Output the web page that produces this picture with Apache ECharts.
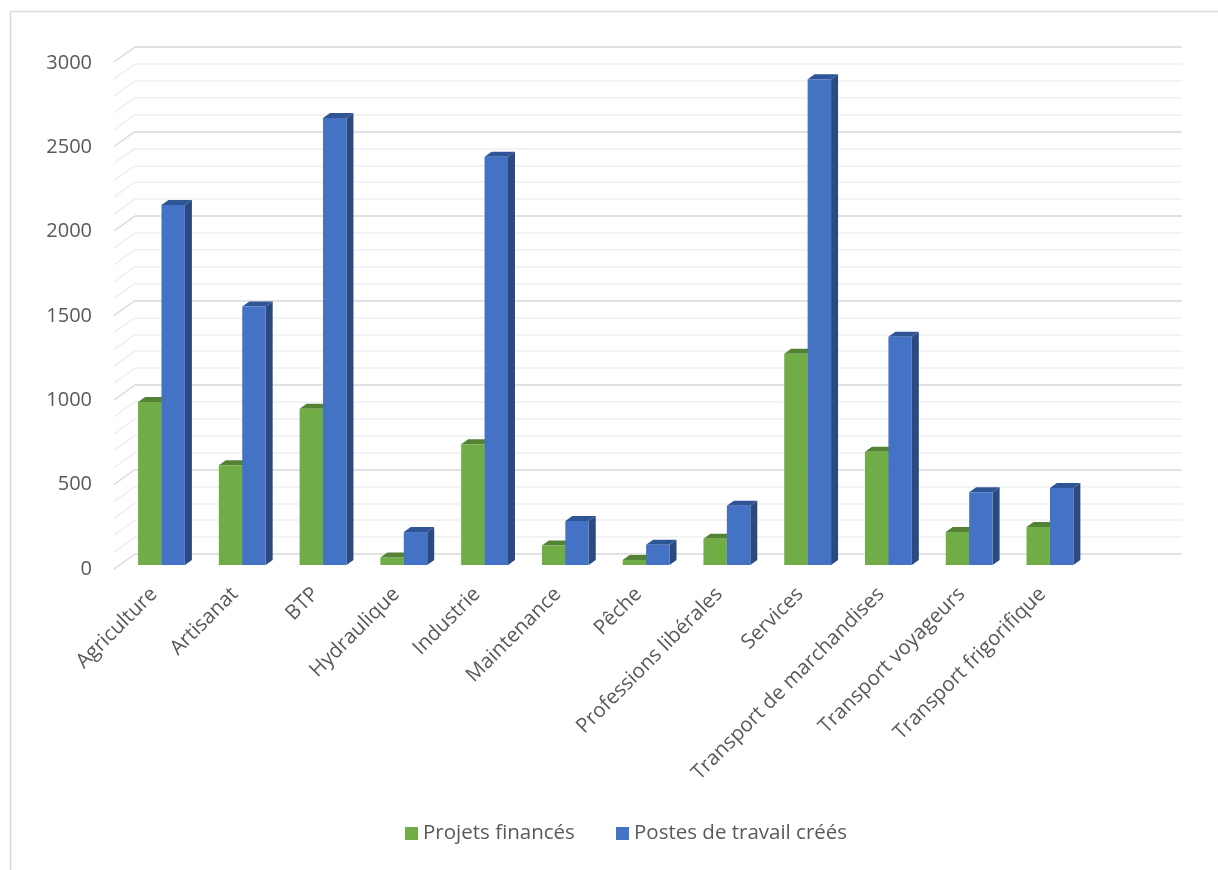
<!DOCTYPE html>
<html>
<head>
<meta charset="utf-8">
<script src="https://cdn.jsdelivr.net/npm/echarts@6/dist/echarts.min.js"></script>
<style>html,body{margin:0;padding:0;background:#fff;}#c{width:1218px;height:870px;}</style>
</head>
<body>
<div id="c"></div>
<script>
const categories = ['Agriculture','Artisanat','BTP','Hydraulique','Industrie','Maintenance','Pêche','Professions libérales','Services','Transport de marchandises','Transport voyageurs','Transport frigorifique',''];
const projetsFinances = [965,590,925,45,715,115,30,155,1250,670,195,225];
const postesCrees = [2130,1530,2645,195,2415,260,120,350,2875,1350,430,455];
const yTicks = [0,500,1000,1500,2000,2500,3000];
const seriesNames = ['Projets financés','Postes de travail créés'];

const FONT = 'Open Sans';
const TXT = '#595959';
const DX = 7, DY = -5;

function barRenderer(front, top, side, offsetIdx) {
  return function (params, api) {
    const idx = api.value(0);
    const val = api.value(1);
    const t = api.coord([idx, val]);
    const b = api.coord([idx, 0]);
    const band = api.size([1, 0])[0];
    const w = band * 0.29;
    const x = t[0] - w + offsetIdx * w + 1.5;
    const yt = t[1], yb = b[1];
    return {
      type: 'group',
      children: [
        {type: 'polygon', shape: {points: [[x + w, yt], [x + w + DX, yt + DY], [x + w + DX, yb + DY], [x + w, yb]]}, style: {fill: side}},
        {type: 'polygon', shape: {points: [[x, yt], [x + w, yt], [x + w + DX, yt + DY], [x + DX, yt + DY]]}, style: {fill: top}},
        {type: 'rect', shape: {x: x, y: yt, width: w, height: yb - yt}, style: {fill: front}}
      ]
    };
  };
}

const chart = echarts.init(document.getElementById('c'), null, {renderer: 'canvas'});
chart.setOption({
  animation: false,
  backgroundColor: '#fff',
  graphic: [{
    type: 'rect', z: -10,
    shape: {x: 10.5, y: 11.5, width: 1400, height: 1000},
    style: {fill: 'none', stroke: '#D9D9D9', lineWidth: 1.5}
  }],
  grid: [
    {left: 135, top: 47, width: 1047, height: 507},
    {left: 114, top: 63, width: 1047, height: 506},
    {left: 119.6, top: 58, width: 1050, height: 507},
    {left: 113.6, top: 58, width: 1050, height: 507}
  ],
  xAxis: [
    {gridIndex: 0, type: 'value', min: 0, max: 1, show: false},
    {gridIndex: 1, type: 'value', min: 0, max: 1, show: false},
    {gridIndex: 2, type: 'category', data: categories, boundaryGap: true, show: false},
    {gridIndex: 3, type: 'category', data: categories, boundaryGap: true,
      axisLine: {show: false}, axisTick: {show: false},
      axisLabel: {interval: 0, rotate: 45, margin: 26, color: TXT, fontSize: 20.5, fontFamily: FONT}}
  ],
  yAxis: [
    {gridIndex: 0, type: 'value', min: 0, max: 3000, interval: 500,
      axisLabel: {show: false}, axisLine: {show: false}, axisTick: {show: false},
      splitLine: {show: true, lineStyle: {color: '#D9D9D9', width: 1.5}},
      minorTick: {show: false, splitNumber: 5},
      minorSplitLine: {show: true, lineStyle: {color: '#EFEFEF', width: 1.5}}},
    {gridIndex: 1, type: 'value', min: 0, max: 3000, interval: 500,
      axisLine: {show: false}, axisTick: {show: false}, splitLine: {show: false},
      axisLabel: {margin: 22, color: TXT, fontSize: 20, fontFamily: FONT,
        customValues: yTicks, formatter: function (v) { return String(v); }}},
    {gridIndex: 2, type: 'value', min: 0, max: 3000, show: false, splitLine: {show: false}},
    {gridIndex: 3, type: 'value', min: 0, max: 3000, show: false, splitLine: {show: false}}
  ],
  legend: [
    {data: [seriesNames[0]], left: 400, top: 818, icon: 'rect', itemWidth: 13, itemHeight: 13, itemGap: 0,
      textStyle: {color: TXT, fontSize: 20.5, fontFamily: FONT}},
    {data: [seriesNames[1]], left: 611, top: 818, icon: 'rect', itemWidth: 13, itemHeight: 13, itemGap: 0,
      textStyle: {color: TXT, fontSize: 20.5, fontFamily: FONT}}
  ],
  series: [
    {
      type: 'custom', name: 'walls', xAxisIndex: 0, yAxisIndex: 0, silent: true, z: 1,
      data: [[0, 0]],
      renderItem: function (params, api) {
        const children = [];
        for (let v = 0; v <= 3000; v += 100) {
          const p = api.coord([0, v]);
          const major = v % 500 === 0;
          children.push({type: 'line', shape: {x1: p[0], y1: p[1], x2: p[0] - 21, y2: p[1] + 15},
            style: {stroke: major ? '#D9D9D9' : '#EFEFEF', lineWidth: 1.5}});
        }
        return {type: 'group', children: children};
      }
    },
    {
      type: 'custom', name: seriesNames[0], xAxisIndex: 2, yAxisIndex: 2, z: 5,
      itemStyle: {color: '#70AD47'},
      data: projetsFinances.map((v, i) => [i, v]),
      renderItem: barRenderer('#70AD47', '#548235', '#4E7A31', 0)
    },
    {
      type: 'custom', name: seriesNames[1], xAxisIndex: 2, yAxisIndex: 2, z: 6,
      itemStyle: {color: '#4472C4'},
      data: postesCrees.map((v, i) => [i, v]),
      renderItem: barRenderer('#4472C4', '#2F5597', '#2B4A80', 1)
    }
  ]
});
</script>
</body>
</html>
